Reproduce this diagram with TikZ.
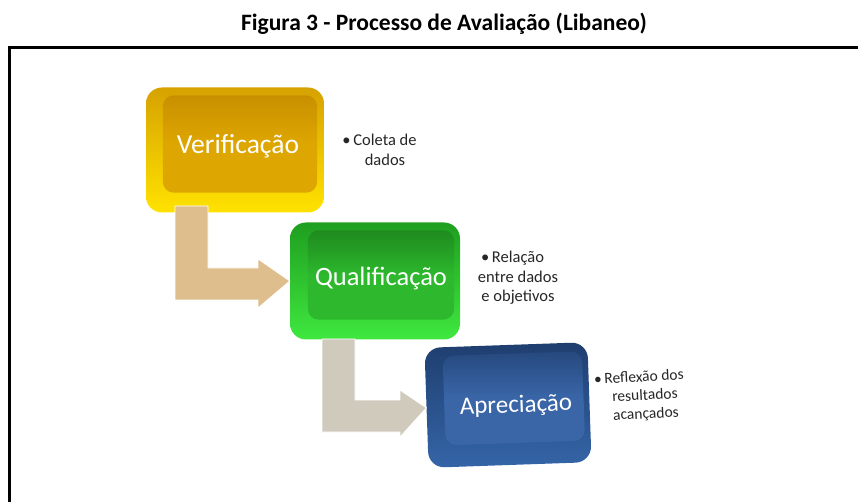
\documentclass[tikz,border=0pt]{standalone}
\usepackage{fontspec}
\setmainfont{Carlito}
\usetikzlibrary{shadings}
\definecolor{yelDark}{HTML}{D6A200}
\definecolor{yelLight}{HTML}{FFE200}
\definecolor{yelIn}{HTML}{DEA600}
\definecolor{yelInTop}{HTML}{C89000}
\definecolor{grnDark}{HTML}{1F9E1F}
\definecolor{grnLight}{HTML}{3FE83F}
\definecolor{grnIn}{HTML}{2DB82D}
\definecolor{grnInTop}{HTML}{1E8A1E}
\definecolor{bluDark}{HTML}{1E3E6E}
\definecolor{bluLight}{HTML}{3565A8}
\definecolor{bluIn}{HTML}{3A66A8}
\definecolor{bluInTop}{HTML}{26497E}
\definecolor{tanArrow}{HTML}{DDBE8C}
\definecolor{grayArrow}{HTML}{CFCABC}
\tikzset{
  outerbox/.style={rounded corners=16pt, inner sep=0pt},
  labeltext/.style={font=\fontsize{27.5}{31}\selectfont, text=white},
  sidetext/.style={font=\fontsize{16.5}{19.5}\selectfont, align=center, text=black!85},
  blockarrow/.style={draw=white, line width=0.8pt},
}
\begin{document}
\begin{tikzpicture}[x=1pt,y=-1pt]
\useasboundingbox (0,0) rectangle (859,502);
% title
\node[font=\bfseries\fontsize{23.5}{26}\selectfont] (title) at (444,24) {Figura 3 - Processo de Avaliação (Libaneo)};
% frame
\coordinate (fbl) at (9.5,503);
\coordinate (ftl) at (9.5,47.5);
\coordinate (ftr) at (858,47.5);
\draw[line width=2.6pt] (fbl) -- (ftl) -- (ftr);

% boxes and block arrows
\node[outerbox, minimum width=170pt, minimum height=117pt, top color=grnDark, bottom color=grnLight] (qual) at (375,281) {};
\node[outerbox, minimum width=178pt, minimum height=125pt, top color=yelDark, bottom color=yelLight] (verif) at (235,150) {};
\fill[tanArrow, blockarrow] (175,206) -- (208,206) -- (208,268) -- (258,268) -- (258,259) -- (qual.west) -- (258,308) -- (258,300) -- (175,300) -- cycle;
\node[outerbox, minimum width=163pt, minimum height=120pt, top color=bluDark, bottom color=bluLight, rotate=2] (apre) at (508,405) {};
\fill[grayArrow, blockarrow] (322,339) -- (355,339) -- (355,400) -- (400,400) -- (400,390) -- (apre.west) -- (400,437) -- (400,432) -- (322,432) -- cycle;

% inner panels
\shade[rounded corners=11pt, top color=yelInTop, bottom color=yelIn, middle color=yelIn] ([xshift=17pt,yshift=-8pt]verif.north west) rectangle ([xshift=-7pt,yshift=20pt]verif.south east);
\shade[rounded corners=11pt, top color=grnInTop, bottom color=grnIn, middle color=grnIn] ([xshift=18pt,yshift=-8pt]qual.north west) rectangle ([xshift=-6pt,yshift=20pt]qual.south east);
\shade[rounded corners=11pt, top color=bluInTop, bottom color=bluIn, middle color=bluIn, rotate around={2:(apre.center)}] ([xshift=18pt,yshift=-9pt]apre.north west) rectangle ([xshift=-6pt,yshift=22pt]apre.south east);

% labels
\node[labeltext] (verifl) at (238,146) {Verificação};
\node[labeltext, font=\fontsize{26.5}{30}\selectfont] (quall) at (381,279) {Qualificação};
\node[labeltext, font=\fontsize{25}{29}\selectfont, rotate=2] (aprel) at (516,406) {Apreciação};

% side texts
\node[sidetext] (s1) at (385,150) {\llap{•\,}Coleta de\\dados};
\node[sidetext] (s2) at (518,278) {\llap{•\,}Relação\\entre dados\\e objetivos};
\node[sidetext, font=\fontsize{15.5}{18.5}\selectfont, rotate=3] (s3) at (645,396) {\llap{•\,}Reflexão dos\\resultados\\acançados};
\end{tikzpicture}
\end{document}
